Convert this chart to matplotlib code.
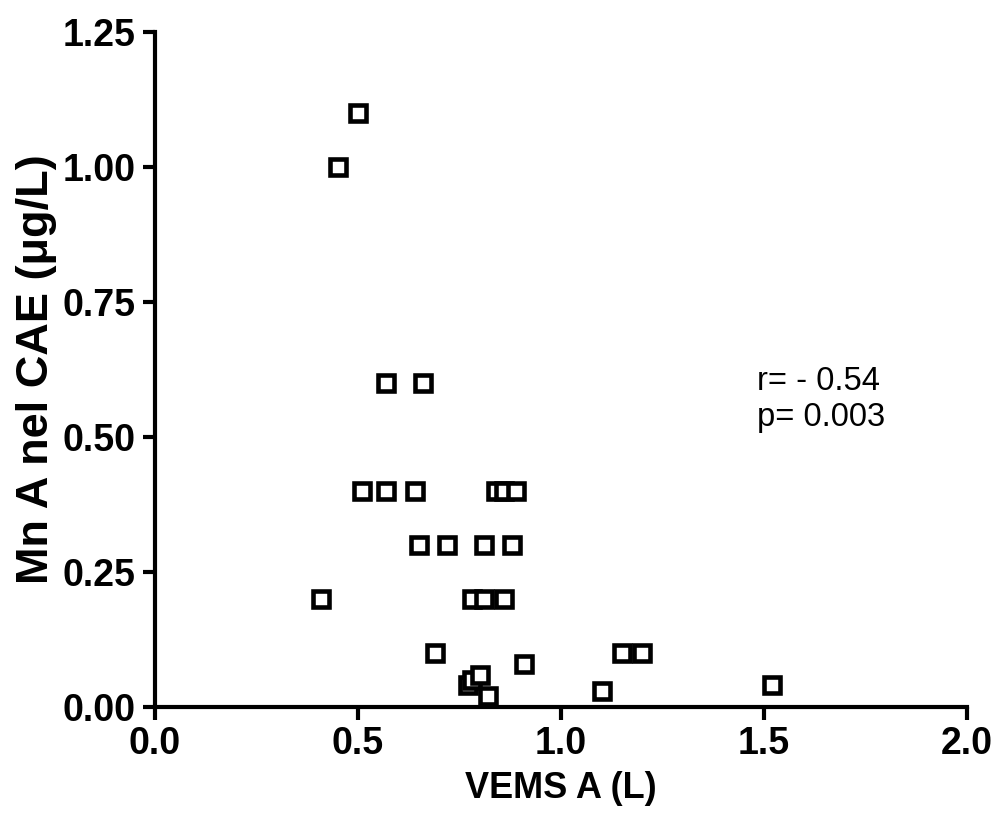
import matplotlib
matplotlib.use("Agg")
import matplotlib.pyplot as plt

# VEMS A (L) vs Mn A nel CAE (ug/L)
vems = [0.45, 0.50, 0.57, 0.66,
        0.51, 0.57, 0.64, 0.84, 0.86, 0.89,
        0.65, 0.72, 0.81, 0.88,
        0.41, 0.78, 0.81, 0.86,
        0.69, 0.91, 0.77, 0.78, 0.80, 0.82,
        1.10, 1.15, 1.20, 1.52]
mn = [1.00, 1.10, 0.60, 0.60,
      0.40, 0.40, 0.40, 0.40, 0.40, 0.40,
      0.30, 0.30, 0.30, 0.30,
      0.20, 0.20, 0.20, 0.20,
      0.10, 0.08, 0.04, 0.05, 0.06, 0.02,
      0.03, 0.10, 0.10, 0.04]

xticks = [0.0, 0.5, 1.0, 1.5, 2.0]
yticks = [0.00, 0.25, 0.50, 0.75, 1.00, 1.25]

plt.rcParams['font.family'] = ['Liberation Sans', 'DejaVu Sans']

fig = plt.figure(figsize=(9.97, 8.34), dpi=100)
ax = fig.add_axes([0.1555, 0.1523, 0.8144, 0.8094])

ax.plot(vems, mn, linestyle='', marker='s', markersize=11.5,
        markerfacecolor='white', markeredgecolor='black', markeredgewidth=3.3,
        clip_on=False)

ax.set_xlim(0, 2.0)
ax.set_ylim(0, 1.25)
ax.set_xticks(xticks)
ax.set_xticklabels(['%.1f' % v for v in xticks])
ax.set_yticks(yticks)
ax.set_yticklabels(['%.2f' % v for v in yticks])

for s in ['top', 'right']:
    ax.spines[s].set_visible(False)
for s in ['left', 'bottom']:
    ax.spines[s].set_linewidth(3)
ax.tick_params(direction='out', length=9, width=3, pad=5,
               labelsize=27)
for lab in ax.get_xticklabels() + ax.get_yticklabels():
    lab.set_fontweight('bold')

ax.set_xlabel('VEMS A (L)', fontsize=26, fontweight='bold', labelpad=6)
ax.set_ylabel('Mn A nel CAE (\u03bcg/L)', fontsize=32.5, fontweight='bold', labelpad=4)

ax.text(1.483, 0.569, 'r= - 0.54\np= 0.003', fontsize=23.5, va='center', ha='left',
        linespacing=1.2)

plt.savefig('out.png', dpi=100)
